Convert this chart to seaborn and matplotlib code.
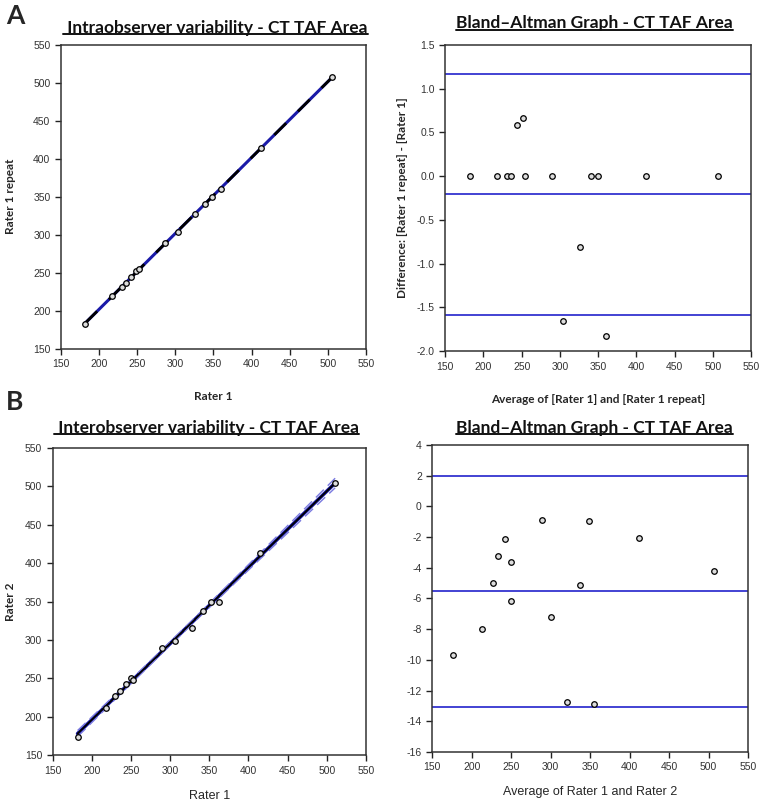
"""Intra/inter-observer agreement figure: scatter + Bland-Altman panels."""

import matplotlib.pyplot as plt
import numpy as np
import pandas as pd
import seaborn as sns
from matplotlib.lines import Line2D

# Panel A: intraobserver (Rater 1 vs Rater 1 repeat)
intra_rater1 = [182, 217, 230, 235, 242, 249, 252, 287, 303, 326, 339, 348, 360, 412, 506]
intra_repeat = [183, 219, 231, 236, 245, 253, 255, 289, 304, 327, 341, 350, 360, 414, 508]

ba_a_mean = [182.7, 218.4, 231.0, 236.7, 244.5, 252.0, 254.6, 289.5, 304.2,
             326.9, 340.8, 350.4, 360.5, 412.3, 507.3]
ba_a_diff = [0.0, 0.0, 0.0, 0.0, 0.58, 0.66, 0.0, 0.0, -1.65,
             -0.81, 0.0, 0.0, -1.83, 0.0, 0.0]
ba_a_limits = [1.17, -0.21, -1.585]

# Panel B: interobserver (Rater 1 vs Rater 2)
inter_rater1 = [182, 218, 230, 236, 244, 250.6, 252.5, 290, 306, 328.5, 342, 352, 363, 415, 510.6]
inter_rater2 = [174, 212, 227, 234, 243, 250.4, 248, 290, 299, 316, 338, 350, 350, 413, 505]

ba_b_mean = [176, 213.5, 227.5, 233.8, 242.3, 249.5, 250.3, 288.8, 300.6,
             320.5, 337.7, 349.1, 355.1, 411.7, 506.3]
ba_b_diff = [-9.66, -8.02, -5.0, -3.23, -2.16, -3.65, -6.2, -0.92, -7.2,
             -12.72, -5.16, -0.96, -12.87, -2.05, -4.2]
ba_b_limits = [1.95, -5.55, -13.05]

TITLE_FONT = ["Lato", "DejaVu Sans"]
TICK_FONT = ["Liberation Sans Narrow", "Liberation Sans", "DejaVu Sans"]

sns.set_theme(style="ticks")
plt.rcParams["font.family"] = TICK_FONT
plt.rcParams["axes.edgecolor"] = "#333333"
plt.rcParams["axes.linewidth"] = 1.1

fig = plt.figure(figsize=(7.61, 8), dpi=100)
ax_a1 = fig.add_axes([0.080, 0.564, 0.401, 0.380])
ax_a2 = fig.add_axes([0.585, 0.561, 0.402, 0.383])
ax_b1 = fig.add_axes([0.069, 0.056, 0.412, 0.384])
ax_b2 = fig.add_axes([0.568, 0.060, 0.415, 0.384])

MARKER = dict(marker="o", s=16, facecolor="#dddddd", edgecolor="black", linewidth=0.9, zorder=5)


def style_axes(ax, xlim, ylim, yticks, yfmt):
    ax.set_xlim(*xlim)
    ax.set_ylim(*ylim)
    ax.set_xticks(np.arange(150, 551, 50))
    ax.set_yticks(yticks)
    ax.set_yticklabels([yfmt.format(v) for v in yticks])
    ax.tick_params(axis="both", labelsize=7.5, length=4, width=1, direction="out",
                   colors="#222222", labelcolor="#333333")
    for s in ax.spines.values():
        s.set_visible(True)


def fit_line(x, y):
    x = np.asarray(x, float)
    y = np.asarray(y, float)
    slope, icpt = np.polyfit(x, y, 1)
    xs = np.linspace(x.min(), x.max(), 50)
    yhat = slope * xs + icpt
    resid = y - (slope * x + icpt)
    s = np.sqrt(np.sum(resid ** 2) / (len(x) - 2))
    se = s * np.sqrt(1 / len(x) + (xs - x.mean()) ** 2 / np.sum((x - x.mean()) ** 2))
    return xs, yhat, 2.16 * se


# --- A left: scatter with fit
xs, yhat, _ = fit_line(intra_rater1, intra_repeat)
sns.lineplot(x=xs, y=yhat, ax=ax_a1, color="#1a1aa8", linewidth=2.2, sort=False)
ax_a1.plot(xs, yhat, color="black", linewidth=2.0, dashes=(6, 6))
sns.scatterplot(x=intra_rater1, y=intra_repeat, ax=ax_a1, **MARKER)
style_axes(ax_a1, (150, 550), (150, 550), np.arange(150, 551, 50), "{:.0f}")

# --- A right: Bland-Altman
sns.scatterplot(x=ba_a_mean, y=ba_a_diff, ax=ax_a2, **MARKER)
for v in ba_a_limits:
    ax_a2.axhline(v, color="#2222cc", linewidth=1.2)
style_axes(ax_a2, (150, 550), (-2.0, 1.5), np.arange(-2.0, 1.51, 0.5), "{:.1f}")

# --- B left: scatter with fit and confidence band
xs, yhat, ci = fit_line(inter_rater1, inter_rater2)
sns.lineplot(x=xs, y=yhat, ax=ax_b1, color="#1a1aa8", linewidth=2.6, sort=False)
ax_b1.plot(xs, yhat + ci, color="#7a7ae0", linewidth=1.0, dashes=(8, 4))
ax_b1.plot(xs, yhat - ci, color="#7a7ae0", linewidth=1.0, dashes=(8, 4))
sns.lineplot(x=xs, y=yhat, ax=ax_b1, color="black", linewidth=1.3, sort=False)
sns.scatterplot(x=inter_rater1, y=inter_rater2, ax=ax_b1, **MARKER)
style_axes(ax_b1, (150, 550), (150, 550), np.arange(150, 551, 50), "{:.0f}")

# --- B right: Bland-Altman
sns.scatterplot(x=ba_b_mean, y=ba_b_diff, ax=ax_b2, **MARKER)
for v in ba_b_limits:
    ax_b2.axhline(v, color="#2222cc", linewidth=1.2)
style_axes(ax_b2, (150, 550), (-16, 4), np.arange(-16, 5, 2), "{:.0f}")

# axis labels
bold_lbl = dict(fontsize=8.5, fontweight="bold", family=TITLE_FONT)
ax_a1.set_xlabel("Rater 1", labelpad=16, **bold_lbl)
ax_a1.set_ylabel("Rater 1 repeat", labelpad=12, **bold_lbl)
ax_a2.set_xlabel("Average of [Rater 1] and [Rater 1 repeat]", labelpad=16, **bold_lbl)
ax_a2.set_ylabel("Difference: [Rater 1 repeat] - [Rater 1]", labelpad=6, **bold_lbl)
ax_b1.set_xlabel("Rater 1", labelpad=10, fontsize=9, family=TICK_FONT)
ax_b1.set_ylabel("Rater 2", labelpad=6, **bold_lbl)
ax_b2.set_xlabel("Average of Rater 1 and Rater 2", labelpad=10, fontsize=9, family=TICK_FONT)

# titles (underlined)
title_kw = dict(fontsize=12.5, fontweight="bold", family=TITLE_FONT, color="#111111")
titles = [
    fig.text(0.283, 0.965, " Intraobserver variability - CT TAF Area", ha="center", va="center", **title_kw),
    fig.text(0.781, 0.971, "Bland\u2013Altman Graph - CT TAF Area", ha="center", va="center", **title_kw),
    fig.text(0.272, 0.465, " Interobserver variability - CT TAF Area", ha="center", va="center", **title_kw),
    fig.text(0.781, 0.465, "Bland\u2013Altman Graph - CT TAF Area", ha="center", va="center", **title_kw),
]
fig.text(0.008, 0.980, "A", fontsize=19, fontweight="bold", family=TITLE_FONT, va="center")
fig.text(0.008, 0.497, "B", fontsize=19, fontweight="bold", family=TITLE_FONT, va="center")

fig.canvas.draw()
renderer = fig.canvas.get_renderer()
inv = fig.transFigure.inverted()
for t in titles:
    bb = t.get_window_extent(renderer).transformed(inv)
    y = bb.y0 + 0.002
    fig.add_artist(Line2D([bb.x0, bb.x1], [y, y], transform=fig.transFigure, color="#111111", linewidth=1.4))

fig.savefig("out.png", dpi=100)
